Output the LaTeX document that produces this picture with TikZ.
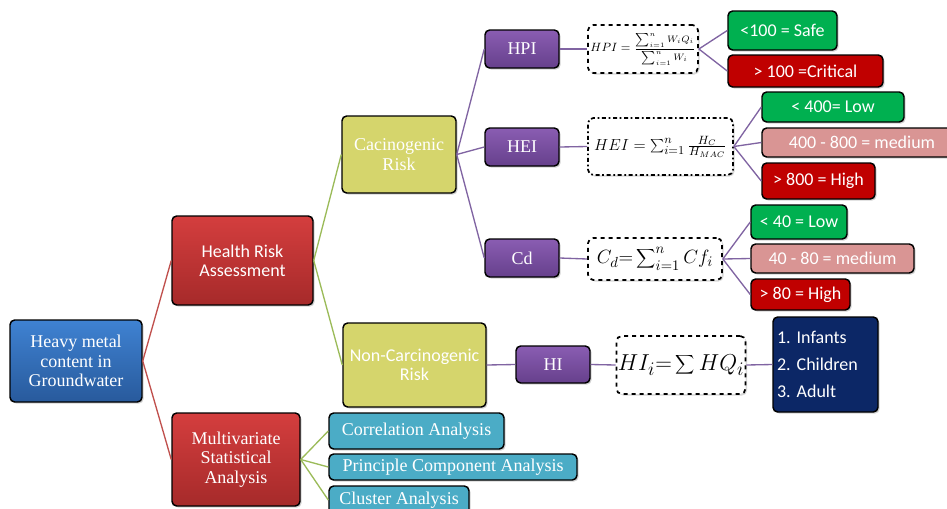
\documentclass[tikz,border=0pt]{standalone}
\usepackage{fontspec}
\setmainfont{Liberation Serif}
\newfontfamily\calibri{Carlito}
\usetikzlibrary{shadows}
\definecolor{cblueT}{HTML}{3F82D2}
\definecolor{cblueB}{HTML}{285A9C}
\definecolor{credT}{HTML}{D43E3E}
\definecolor{credB}{HTML}{A62A2A}
\definecolor{cyel}{HTML}{D5D56C}
\definecolor{cpurT}{HTML}{8A5DB2}
\definecolor{cpurB}{HTML}{66408C}
\definecolor{ccyan}{HTML}{4BACC6}
\definecolor{cgreen}{HTML}{00B050}
\definecolor{cdred}{HTML}{C00000}
\definecolor{cpink}{HTML}{D99594}
\definecolor{cnavy}{HTML}{0C2766}
\definecolor{lred}{HTML}{C0504D}
\definecolor{lgreen}{HTML}{9BBB59}
\definecolor{lpurple}{HTML}{8064A2}
\tikzset{
  basebox/.style={draw=black, line width=1.1pt, rounded corners=3.5pt, text=white, inner sep=2pt, align=center,
    drop shadow={shadow xshift=1.2pt, shadow yshift=-1.2pt, opacity=0.35}},
  serif/.style={font=\fontsize{13.5}{14.5}\selectfont},
  sans/.style={font=\calibri\fontsize{13.5}{14.5}\selectfont},
  bluebox/.style={basebox, serif, top color=cblueT, bottom color=cblueB},
  redbox/.style={basebox, top color=credT, bottom color=credB},
  yelbox/.style={basebox, fill=cyel},
  purbox/.style={basebox, serif, top color=cpurT, bottom color=cpurB},
  cyanbox/.style={basebox, serif, fill=ccyan},
  fbox/.style={draw=black, line width=1.3pt, dashed, rounded corners=4pt, fill=white, inner sep=1pt,
    drop shadow={shadow xshift=1.2pt, shadow yshift=-1.2pt, opacity=0.3}},
  resbox/.style={basebox, sans},
  gbox/.style={resbox, fill=cgreen},
  rbox/.style={resbox, fill=cdred},
  pbox/.style={resbox, fill=cpink},
  lr/.style={draw=lred, line width=1pt},
  lg/.style={draw=lgreen, line width=1pt},
  lp/.style={draw=lpurple, line width=1pt},
}
\begin{document}
\begin{tikzpicture}[x=0.75pt,y=-0.75pt]
\useasboundingbox (0,0) rectangle (947,508);
\clip (0,0) rectangle (947,508);
% level 0
\node[bluebox, minimum width=99pt, minimum height=61.5pt] (hm) at (76,361) {Heavy metal\\content in\\Groundwater};
% level 1
\node[redbox, sans, minimum width=105.75pt, minimum height=66.75pt] (hra) at (242.5,260.5) {Health Risk\\Assessment};
\node[redbox, serif, minimum width=96pt, minimum height=69.75pt] (msa) at (236,459.5) {Multivariate\\Statistical\\Analysis};
% level 2
\node[yelbox, serif, minimum width=85.5pt, minimum height=57.75pt] (car) at (399,154.5) {Cacinogenic\\Risk};
\node[yelbox, sans, minimum width=107.25pt, minimum height=63pt] (ncr) at (414.5,365) {Non-Carcinogenic\\Risk};
\node[cyanbox, minimum width=131.25pt, minimum height=27pt] (corr) at (416.5,431) {Correlation Analysis};
\node[cyanbox, minimum width=186pt, minimum height=19.5pt] (pca) at (453,467) {Principle Component Analysis};
\node[cyanbox, minimum width=105pt, minimum height=21pt] (clus) at (399,500) {Cluster Analysis};
% level 3
\node[purbox, minimum width=55.5pt, minimum height=28.5pt] (hpi) at (522,49) {HPI};
\node[purbox, minimum width=55.5pt, minimum height=28.5pt] (hei) at (522,147) {HEI};
\node[purbox, minimum width=55.5pt, minimum height=28.5pt] (cd) at (522,258) {Cd};
\node[purbox, minimum width=55.5pt, minimum height=27.75pt] (hi) at (553,364.5) {HI};
% formulas
\node[fbox, minimum width=82.5pt, minimum height=36pt, font=\fontsize{9.5}{10}\selectfont] (fhpi) at (643,49)
  {$HPI=\displaystyle\frac{\scriptstyle\sum_{i=1}^{n}W_iQ_i}{\scriptstyle\sum_{i=1}^{n}W_i}$};
\node[fbox, dash dot, minimum width=108.75pt, minimum height=42.75pt, font=\fontsize{13}{14}\selectfont] (fhei) at (660.5,146.5)
  {$HEI=\sum\nolimits_{i=1}^{n}\frac{H_C}{H_{MAC}}$};
\node[fbox, minimum width=100.5pt, minimum height=31.5pt, font=\fontsize{15}{16}\selectfont] (fcd) at (655,259)
  {$C_d{=}\displaystyle\sum\nolimits_{i=1}^{n}Cf_i$};
\node[fbox, minimum width=94.5pt, minimum height=43.5pt, font=\fontsize{19}{20}\selectfont] (fhi) at (681,365)
  {$HI_i{=}\displaystyle\sum HQ_i$};
% results
\node[gbox, minimum width=81.75pt, minimum height=29.25pt] (r1) at (782.5,30.5) {<100 = Safe};
\node[rbox, minimum width=116.25pt, minimum height=24pt] (r2) at (805.5,71) {> 100 =Critical};
\node[gbox, minimum width=106.5pt, minimum height=22.5pt] (r3) at (833,107) {< 400= Low};
\node[pbox, minimum width=150pt, minimum height=21.75pt] (r4) at (862,142.5) {400 - 800 = medium};
\node[rbox, minimum width=84.75pt, minimum height=27pt] (r5) at (818.5,181) {> 800 = High};
\node[gbox, minimum width=72pt, minimum height=25.5pt] (r6) at (799,222) {< 40 = Low};
\node[pbox, minimum width=122.25pt, minimum height=21.75pt] (r7) at (832.5,258.5) {40 - 80 = medium};
\node[rbox, minimum width=74.25pt, minimum height=23.25pt] (r8) at (800.5,294.5) {> 80 = High};
\node[basebox, fill=cnavy, align=left, inner xsep=3pt, text width=72.75pt, minimum height=71.25pt,
  font=\calibri\frenchspacing\fontsize{13.5}{20.5}\selectfont] (lst) at (825.5,364.5) {1. Infants\\2. Children\\3. Adult};
% connectors
\draw[lr] (hm.east) -- (hra.west);
\draw[lr] (hm.east) -- (msa.west);
\draw[lg] (hra.east) -- (car.west);
\draw[lg] (hra.east) -- (ncr.west);
\draw[lg] (msa.east) -- (corr.west);
\draw[lg] (msa.east) -- (pca.west);
\draw[lg] (msa.east) -- (clus.west);
\draw[lp] (car.east) -- (hpi.west);
\draw[lp] (car.east) -- (hei.west);
\draw[lp] (car.east) -- (cd.west);
\draw[lp] (ncr.east) -- (hi.west);
\draw[lp] (hpi.east) -- (fhpi.west);
\draw[lp] (hei.east) -- (fhei.west);
\draw[lp] (cd.east) -- (fcd.west);
\draw[lp] (hi.east) -- (fhi.west);
\draw[lp] (fhpi.east) -- (r1.west);
\draw[lp] (fhpi.east) -- (r2.west);
\draw[lp] (fhei.east) -- (r3.west);
\draw[lp] (fhei.east) -- (r4.west);
\draw[lp] (fhei.east) -- (r5.west);
\draw[lp] (fcd.east) -- (r6.west);
\draw[lp] (fcd.east) -- (r7.west);
\draw[lp] (fcd.east) -- (r8.west);
\draw[lp] (fhi.east) -- (lst.west);
\end{tikzpicture}
\end{document}
